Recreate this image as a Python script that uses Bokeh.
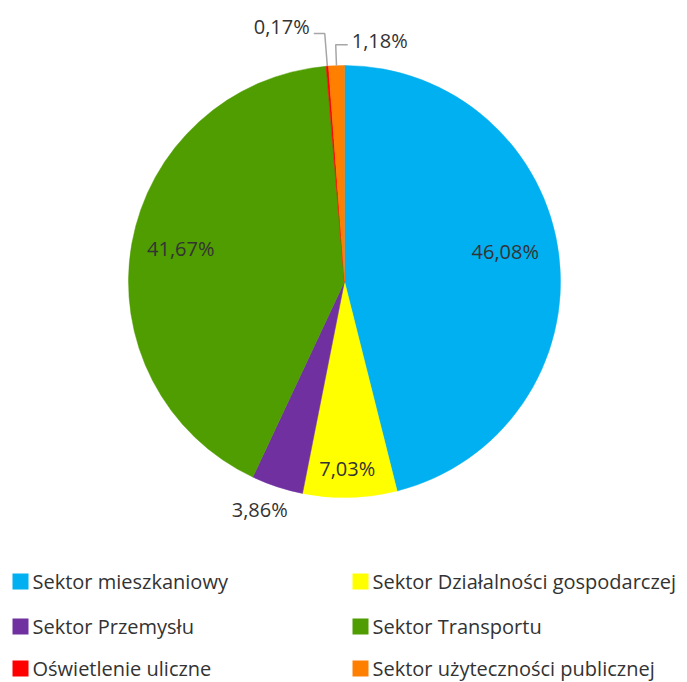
import math
from bokeh.plotting import figure
from bokeh.models import Range1d, ColumnDataSource
from bokeh.embed import file_html
from bokeh.resources import INLINE
from bokeh.core.properties import value

# ---- data ----
categories = ["Sektor mieszkaniowy", "Sektor Działalności gospodarczej", "Sektor Przemysłu",
              "Sektor Transportu", "Oświetlenie uliczne", "Sektor użyteczności publicznej"]
shares = [46.08, 7.03, 3.86, 41.67, 0.17, 1.18]
labels = ["46,08%", "7,03%", "3,86%", "41,67%", "0,17%", "1,18%"]
colors = ["#00B0F0", "#FFFF00", "#7030A0", "#4F9D00", "#FF0000", "#FF7F00"]

# ---- styling / layout params ----
W, H = 687, 682
CX, CY, R = 344, 401, 216
FONT = value("Open Sans")
FS = "20px"
TXT = "#333333"
# label placement: radius factor and pixel nudge
label_rf = [0.75, 0.87, 1.125, 0.77, None, None]
label_nudge = [(0, 10), (-2, 1), (-9, 3), (0, 4), (0, 0), (0, 0)]
# leader lines for tiny slices: (elbow radius factor, arm length, text dy)
leaders = {4: (1.152, -11, 7), 5: (1.097, 12, 4)}

p = figure(width=W, height=H, output_backend="svg", toolbar_location=None,
           x_range=Range1d(0, W), y_range=Range1d(0, H), min_border=0)
p.axis.visible = False
p.grid.visible = False
p.outline_line_color = None
p.background_fill_color = "white"

total = sum(shares)
cum = 0.0
starts, ends, mids = [], [], []
for s in shares:
    a0 = cum / total
    cum += s
    a1 = cum / total
    starts.append(math.pi / 2 - 2 * math.pi * a0)
    ends.append(math.pi / 2 - 2 * math.pi * a1)
    mids.append(2 * math.pi * (a0 + a1) / 2)  # clockwise from 12 o'clock

src = ColumnDataSource(dict(start=starts, end=ends, color=colors))
p.wedge(x=CX, y=CY, radius=R, start_angle="start", end_angle="end", direction="clock",
        fill_color="color", line_color="color", line_width=0.5, source=src)

# labels
for i, lab in enumerate(labels):
    th = mids[i]
    if i in leaders:
        rf, arm, tdy = leaders[i]
        x0, y0 = CX + R * math.sin(th), CY + R * math.cos(th)
        xe, ye = CX + rf * R * math.sin(th), CY + rf * R * math.cos(th)
        xa = xe + arm
        p.line([x0, xe, xa], [y0, ye, ye], line_color="#A6A6A6", line_width=1.5)
        align = "right" if arm < 0 else "left"
        tx = xa + (-4 if arm < 0 else 4)
        p.text(x=[tx], y=[ye + tdy], text=[lab], text_font=FONT, text_font_size=FS,
               text_color=TXT, text_align=align, text_baseline="middle")
    else:
        rf = label_rf[i]
        dx, dy = label_nudge[i]
        tx = CX + rf * R * math.sin(th) + dx
        ty = CY + rf * R * math.cos(th) + dy
        p.text(x=[tx], y=[ty], text=[lab], text_font=FONT, text_font_size=FS,
               text_color=TXT, text_align="center", text_baseline="middle")

# legend (2 columns x 3 rows)
col_x = [12, 352]
row_y = [101, 56, 14]
sq = 16
for i, cat in enumerate(categories):
    cx = col_x[i % 2]
    cy = row_y[i // 2]
    p.rect(x=[cx + sq / 2], y=[cy], width=sq, height=sq, fill_color=colors[i],
           line_color=None)
    p.text(x=[cx + sq + 4], y=[cy], text=[cat], text_font=FONT, text_font_size=FS,
           text_color=TXT, text_align="left", text_baseline="middle")

open("out.html", "w").write(file_html(p, INLINE))
